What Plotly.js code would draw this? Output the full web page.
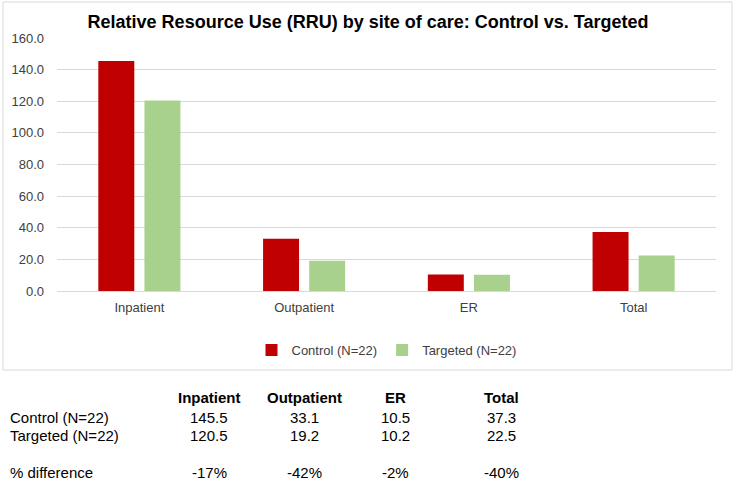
<!DOCTYPE html>
<html>
<head>
<meta charset="utf-8">
<script src="https://cdn.plot.ly/plotly-3.0.1.min.js"></script>
<style>html,body{margin:0;padding:0;background:#fff;}#chart{width:736px;height:485px;}</style>
</head>
<body>
<div id="chart"></div>
<script>
const categories = ["Inpatient", "Outpatient", "ER", "Total"];
const controlValues = [145.5, 33.1, 10.5, 37.3];
const targetedValues = [120.5, 19.2, 10.2, 22.5];
const pctDifference = ["-17%", "-42%", "-2%", "-40%"];
const seriesNames = ["Control (N=22)", "Targeted (N=22)"];
const yTicks = [0, 20, 40, 60, 80, 100, 120, 140, 160];

const W = 736, H = 485;
const L = 57, R = 20, T = 38, B = 194;
const pw = W - L - R, ph = H - T - B;
const px = x => (x - L) / pw;
const py = y => (H - B - y) / ph;

const traces = [
  {type: "bar", name: seriesNames[0], x: categories, y: controlValues,
   marker: {color: "#C00000"}, hoverinfo: "x+y"},
  {type: "bar", name: seriesNames[1], x: categories, y: targetedValues,
   marker: {color: "#A9D18E"}, hoverinfo: "x+y"}
];

const tableFont = "'Liberation Sans Narrow', 'Liberation Sans', Arial, sans-serif";
const colX = [209, 304, 395, 501];
const rowY = {header: 397, control: 417, targeted: 435, pct: 473};
const ann = [];
function addText(text, x, y, opts) {
  ann.push(Object.assign({xref: "paper", yref: "paper", x: px(x), y: py(y), text: text,
    showarrow: false, xanchor: "center", yanchor: "middle",
    font: {family: tableFont, size: 15, color: "#000"}}, opts || {}));
}
categories.forEach((c, i) => {
  addText("<b>" + c + "</b>", colX[i], rowY.header);
  addText(controlValues[i].toFixed(1), colX[i], rowY.control);
  addText(targetedValues[i].toFixed(1), colX[i], rowY.targeted);
  addText(pctDifference[i], colX[i], rowY.pct);
});
addText(seriesNames[0], 8, rowY.control, {xanchor: "left"});
addText(seriesNames[1], 8, rowY.targeted, {xanchor: "left"});
addText("% difference", 8, rowY.pct, {xanchor: "left"});

const layout = {
  width: W, height: H,
  margin: {l: L, r: R, t: T, b: B, pad: 0},
  paper_bgcolor: "#fff", plot_bgcolor: "#fff",
  font: {family: "'Liberation Sans', Arial, sans-serif", size: 13, color: "#404040"},
  title: {text: "<b>Relative Resource Use (RRU) by site of care: Control vs. Targeted</b>",
    x: 0.5, xanchor: "center", y: 1 - 22 / H, yanchor: "middle",
    font: {family: "'Liberation Sans', Arial, sans-serif", size: 18, color: "#000"}},
  barmode: "group", bargap: 0.44, bargroupgap: 0.22,
  xaxis: {type: "category", showgrid: false, showline: false, ticks: "", ticklabelstandoff: 7,
    tickfont: {size: 13, color: "#404040"}, automargin: false, fixedrange: true},
  yaxis: {range: [0, 160], tickvals: yTicks, tickformat: ".1f", showgrid: true,
    gridcolor: "#D9D9D9", gridwidth: 1, zeroline: true, zerolinecolor: "#D9D9D9", zerolinewidth: 1,
    showline: false, ticks: "", ticklabelstandoff: 12, tickfont: {size: 13, color: "#404040"},
    automargin: false, fixedrange: true},
  showlegend: true,
  legend: {orientation: "h", x: 0.5, xanchor: "center", y: py(350), yanchor: "middle",
    font: {size: 13, color: "#404040"}, itemwidth: 30, traceorder: "normal", bgcolor: "rgba(0,0,0,0)"},
  shapes: [{type: "rect", xref: "paper", yref: "paper", x0: px(3), x1: px(732), y0: py(370), y1: py(2),
    line: {color: "#D9D9D9", width: 1}, fillcolor: "rgba(0,0,0,0)", layer: "below"}],
  annotations: ann
};

Plotly.newPlot("chart", traces, layout, {displayModeBar: false, staticPlot: true});
</script>
</body>
</html>
